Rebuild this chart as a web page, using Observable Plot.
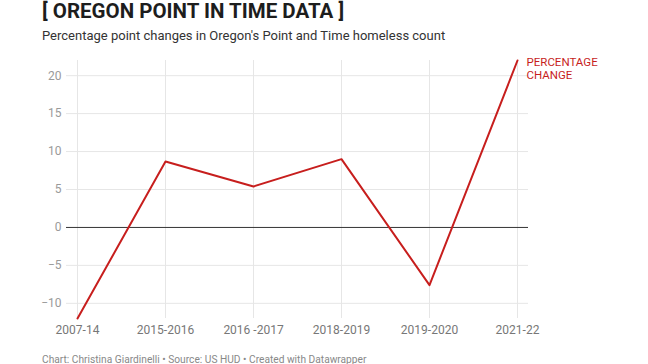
<!DOCTYPE html>
<html><head><meta charset="utf-8">
<script src="https://cdn.jsdelivr.net/npm/d3@7"></script>
<script src="https://cdn.jsdelivr.net/npm/@observablehq/plot@0.6"></script>
<style>
body{margin:0;background:#fff;font-family:Roboto,sans-serif;width:648px;height:364px;overflow:hidden;position:relative;}
#title{position:absolute;left:42px;top:-1px;font-weight:700;font-size:20.5px;line-height:24px;color:#1d1d1d;white-space:nowrap;}
#subtitle{position:absolute;left:42px;top:28px;font-size:13px;color:#333;white-space:nowrap;}
#chart{position:absolute;left:0;top:50px;}
#caption{position:absolute;left:42px;top:354px;font-size:10.2px;color:#888;white-space:nowrap;}
</style></head>
<body>
<div id="title">[ OREGON POINT IN TIME DATA ]</div>
<div id="subtitle">Percentage point changes in Oregon's Point and Time homeless count</div>
<div id="chart"></div>
<div id="caption">Chart: Christina Giardinelli • Source: US HUD • Created with Datawrapper</div>
<script>
const periods = ["2007-14","2015-2016","2016 -2017","2018-2019","2019-2020","2021-22"];
const changes = [-12.0, 8.7, 5.4, 9.0, -7.6, 22.0];
const yTicks = [-10, -5, 0, 5, 10, 15, 20];
const seriesLabel = "PERCENTAGE\nCHANGE";

const red = "#c71e1d";
const chart = Plot.plot({
  width: 648,
  height: 298,
  marginTop: 10,
  marginLeft: 66,
  marginRight: 120,
  marginBottom: 30,
  style: {fontFamily: "Roboto, sans-serif", fontSize: "12px", background: "#fff"},
  x: {type: "point", domain: periods, padding: 0.1, label: null},
  y: {domain: [-12, 22], label: null},
  marks: [
    Plot.gridX(periods, {stroke: "#e6e6e6", strokeOpacity: 1}),
    Plot.gridY(yTicks.filter(d => d !== 0), {stroke: "#e6e6e6", strokeOpacity: 1}),
    Plot.ruleY([0], {stroke: "#333", strokeWidth: 1}),
    Plot.axisX(periods, {tickSize: 0, tickPadding: 7, fill: "#777", fontSize: 12}),
    Plot.axisY(yTicks, {tickSize: 0, tickPadding: 5, fill: "#9a9a9a", fontSize: 12}),
    Plot.line(changes, {x: (d, i) => periods[i], y: d => d, stroke: red, strokeWidth: 2}),
    Plot.text([seriesLabel], {x: [periods[periods.length - 1]], y: [changes[changes.length - 1]],
      text: d => d, textAnchor: "start", lineAnchor: "top", dx: 9, dy: -4, fill: red,
      fontSize: 11.5, lineHeight: 1.15})
  ]
});
document.getElementById("chart").appendChild(chart);
</script>
</body></html>
